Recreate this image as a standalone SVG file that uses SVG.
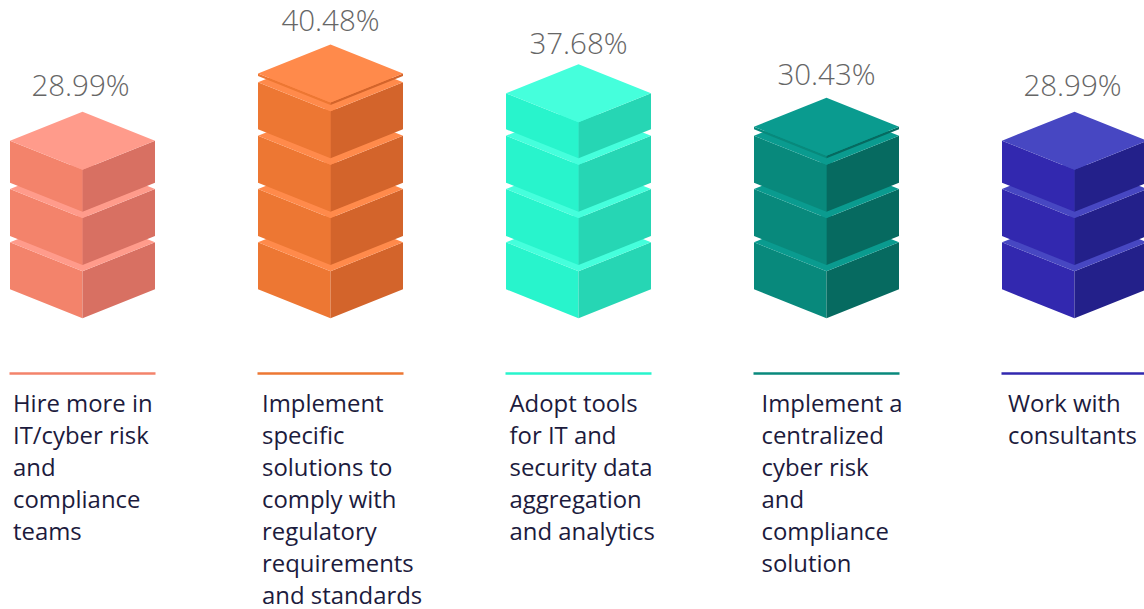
<svg xmlns="http://www.w3.org/2000/svg" width="1144" height="609" viewBox="0 0 1144 609">
<style>
.pct{font-family:"Open Sans","Liberation Sans",sans-serif;font-weight:300;font-size:29.5px;fill:#666666;text-anchor:middle}
.lbl{font-family:"Open Sans","Liberation Sans",sans-serif;font-size:23.9px;fill:#1c1b3d}
.sep{stroke-width:2.6;fill:none}
.p .t{fill:#ff9b8b}.p .l{fill:#f3836b}.p .r{fill:#d87062}.p .sep{stroke:#f3836b}
.o .t{fill:#ff8a4b}.o .l{fill:#ed7733}.o .r{fill:#d3642b}.o .sep{stroke:#ed7733}
.g .t{fill:#45ffdc}.g .l{fill:#28f4cc}.g .r{fill:#26d6b4}.g .sep{stroke:#28f4cc}
.d .t{fill:#0a9b8f}.d .l{fill:#08897c}.d .r{fill:#066a60}.d .sep{stroke:#08897c}
.b .t{fill:#4747c2}.b .l{fill:#3228af}.b .r{fill:#23208a}.b .sep{stroke:#3228af}
</style>

<g id="col1" class="p" transform="translate(82.5,0)">
  <text class="pct" x="-2" y="96">28.99%</text>
  <g transform="translate(0,318.3)"><polygon class="l" points="-72.5,-76 0,-47 0,0 -72.5,-29"/><polygon class="r" points="0,-47 72.5,-76 72.5,-29 0,0"/><polygon class="t" points="0,-105 72.5,-76 0,-47 -72.5,-76"/></g>
  <g transform="translate(0,265)"><polygon class="l" points="-72.5,-76 0,-47 0,0 -72.5,-29"/><polygon class="r" points="0,-47 72.5,-76 72.5,-29 0,0"/><polygon class="t" points="0,-105 72.5,-76 0,-47 -72.5,-76"/></g>
  <g transform="translate(0,211.7)"><polygon class="l" points="-72.5,-71 0,-42 0,0 -72.5,-29"/><polygon class="r" points="0,-42 72.5,-71 72.5,-29 0,0"/><polygon class="t" points="0,-100 72.5,-71 0,-42 -72.5,-71"/></g>
  <line class="sep" x1="-73" y1="373.5" x2="73" y2="373.5"/>
  <text class="lbl" x="-69.5" y="412"><tspan x="-69.5">Hire more in</tspan><tspan x="-69.5" dy="32">IT/cyber risk</tspan><tspan x="-69.5" dy="32">and</tspan><tspan x="-69.5" dy="32">compliance</tspan><tspan x="-69.5" dy="32">teams</tspan></text>
</g>

<g id="col2" class="o" transform="translate(330.5,0)">
  <text class="pct" x="0" y="31">40.48%</text>
  <g transform="translate(0,318.3)"><polygon class="l" points="-72.5,-76 0,-47 0,0 -72.5,-29"/><polygon class="r" points="0,-47 72.5,-76 72.5,-29 0,0"/><polygon class="t" points="0,-105 72.5,-76 0,-47 -72.5,-76"/></g>
  <g transform="translate(0,265)"><polygon class="l" points="-72.5,-76 0,-47 0,0 -72.5,-29"/><polygon class="r" points="0,-47 72.5,-76 72.5,-29 0,0"/><polygon class="t" points="0,-105 72.5,-76 0,-47 -72.5,-76"/></g>
  <g transform="translate(0,211.7)"><polygon class="l" points="-72.5,-76 0,-47 0,0 -72.5,-29"/><polygon class="r" points="0,-47 72.5,-76 72.5,-29 0,0"/><polygon class="t" points="0,-105 72.5,-76 0,-47 -72.5,-76"/></g>
  <g transform="translate(0,158.3)"><polygon class="l" points="-72.5,-76 0,-47 0,0 -72.5,-29"/><polygon class="r" points="0,-47 72.5,-76 72.5,-29 0,0"/><polygon class="t" points="0,-105 72.5,-76 0,-47 -72.5,-76"/></g>
  <g transform="translate(0,105)"><polygon class="l" points="-72.5,-31.5 0,-2.5 0,0 -72.5,-29"/><polygon class="r" points="0,-2.5 72.5,-31.5 72.5,-29 0,0"/><polygon class="t" points="0,-60.5 72.5,-31.5 0,-2.5 -72.5,-31.5"/></g>
  <line class="sep" x1="-73" y1="373.5" x2="73" y2="373.5"/>
  <text class="lbl" x="-68.5" y="412"><tspan x="-68.5">Implement</tspan><tspan x="-68.5" dy="32">specific</tspan><tspan x="-68.5" dy="32">solutions to</tspan><tspan x="-68.5" dy="32">comply with</tspan><tspan x="-68.5" dy="32">regulatory</tspan><tspan x="-68.5" dy="32">requirements</tspan><tspan x="-68.5" dy="32">and standards</tspan></text>
</g>

<g id="col3" class="g" transform="translate(578.5,0)">
  <text class="pct" x="0" y="54">37.68%</text>
  <g transform="translate(0,318.3)"><polygon class="l" points="-72.5,-76 0,-47 0,0 -72.5,-29"/><polygon class="r" points="0,-47 72.5,-76 72.5,-29 0,0"/><polygon class="t" points="0,-105 72.5,-76 0,-47 -72.5,-76"/></g>
  <g transform="translate(0,265)"><polygon class="l" points="-72.5,-76 0,-47 0,0 -72.5,-29"/><polygon class="r" points="0,-47 72.5,-76 72.5,-29 0,0"/><polygon class="t" points="0,-105 72.5,-76 0,-47 -72.5,-76"/></g>
  <g transform="translate(0,211.7)"><polygon class="l" points="-72.5,-76 0,-47 0,0 -72.5,-29"/><polygon class="r" points="0,-47 72.5,-76 72.5,-29 0,0"/><polygon class="t" points="0,-105 72.5,-76 0,-47 -72.5,-76"/></g>
  <g transform="translate(0,158.3)"><polygon class="l" points="-72.5,-65 0,-36 0,0 -72.5,-29"/><polygon class="r" points="0,-36 72.5,-65 72.5,-29 0,0"/><polygon class="t" points="0,-94 72.5,-65 0,-36 -72.5,-65"/></g>
  <line class="sep" x1="-73" y1="373.5" x2="73" y2="373.5"/>
  <text class="lbl" x="-69" y="412"><tspan x="-69">Adopt tools</tspan><tspan x="-69" dy="32">for IT and</tspan><tspan x="-69" dy="32">security data</tspan><tspan x="-69" dy="32">aggregation</tspan><tspan x="-69" dy="32">and analytics</tspan></text>
</g>

<g id="col4" class="d" transform="translate(826.5,0)">
  <text class="pct" x="0" y="85">30.43%</text>
  <g transform="translate(0,318.3)"><polygon class="l" points="-72.5,-76 0,-47 0,0 -72.5,-29"/><polygon class="r" points="0,-47 72.5,-76 72.5,-29 0,0"/><polygon class="t" points="0,-105 72.5,-76 0,-47 -72.5,-76"/></g>
  <g transform="translate(0,265)"><polygon class="l" points="-72.5,-76 0,-47 0,0 -72.5,-29"/><polygon class="r" points="0,-47 72.5,-76 72.5,-29 0,0"/><polygon class="t" points="0,-105 72.5,-76 0,-47 -72.5,-76"/></g>
  <g transform="translate(0,211.7)"><polygon class="l" points="-72.5,-76 0,-47 0,0 -72.5,-29"/><polygon class="r" points="0,-47 72.5,-76 72.5,-29 0,0"/><polygon class="t" points="0,-105 72.5,-76 0,-47 -72.5,-76"/></g>
  <g transform="translate(0,158.3)"><polygon class="l" points="-72.5,-31.5 0,-2.5 0,0 -72.5,-29"/><polygon class="r" points="0,-2.5 72.5,-31.5 72.5,-29 0,0"/><polygon class="t" points="0,-60.5 72.5,-31.5 0,-2.5 -72.5,-31.5"/></g>
  <line class="sep" x1="-73" y1="373.5" x2="73" y2="373.5"/>
  <text class="lbl" x="-65" y="412"><tspan x="-65">Implement a</tspan><tspan x="-65" dy="32">centralized</tspan><tspan x="-65" dy="32">cyber risk</tspan><tspan x="-65" dy="32">and</tspan><tspan x="-65" dy="32">compliance</tspan><tspan x="-65" dy="32">solution</tspan></text>
</g>

<g id="col5" class="b" transform="translate(1074.5,0)">
  <text class="pct" x="-2" y="96">28.99%</text>
  <g transform="translate(0,318.3)"><polygon class="l" points="-72.5,-76 0,-47 0,0 -72.5,-29"/><polygon class="r" points="0,-47 72.5,-76 72.5,-29 0,0"/><polygon class="t" points="0,-105 72.5,-76 0,-47 -72.5,-76"/></g>
  <g transform="translate(0,265)"><polygon class="l" points="-72.5,-76 0,-47 0,0 -72.5,-29"/><polygon class="r" points="0,-47 72.5,-76 72.5,-29 0,0"/><polygon class="t" points="0,-105 72.5,-76 0,-47 -72.5,-76"/></g>
  <g transform="translate(0,211.7)"><polygon class="l" points="-72.5,-71 0,-42 0,0 -72.5,-29"/><polygon class="r" points="0,-42 72.5,-71 72.5,-29 0,0"/><polygon class="t" points="0,-100 72.5,-71 0,-42 -72.5,-71"/></g>
  <line class="sep" x1="-73" y1="373.5" x2="73" y2="373.5"/>
  <text class="lbl" x="-66.5" y="412"><tspan x="-66.5">Work with</tspan><tspan x="-66.5" dy="32">consultants</tspan></text>
</g>
</svg>
